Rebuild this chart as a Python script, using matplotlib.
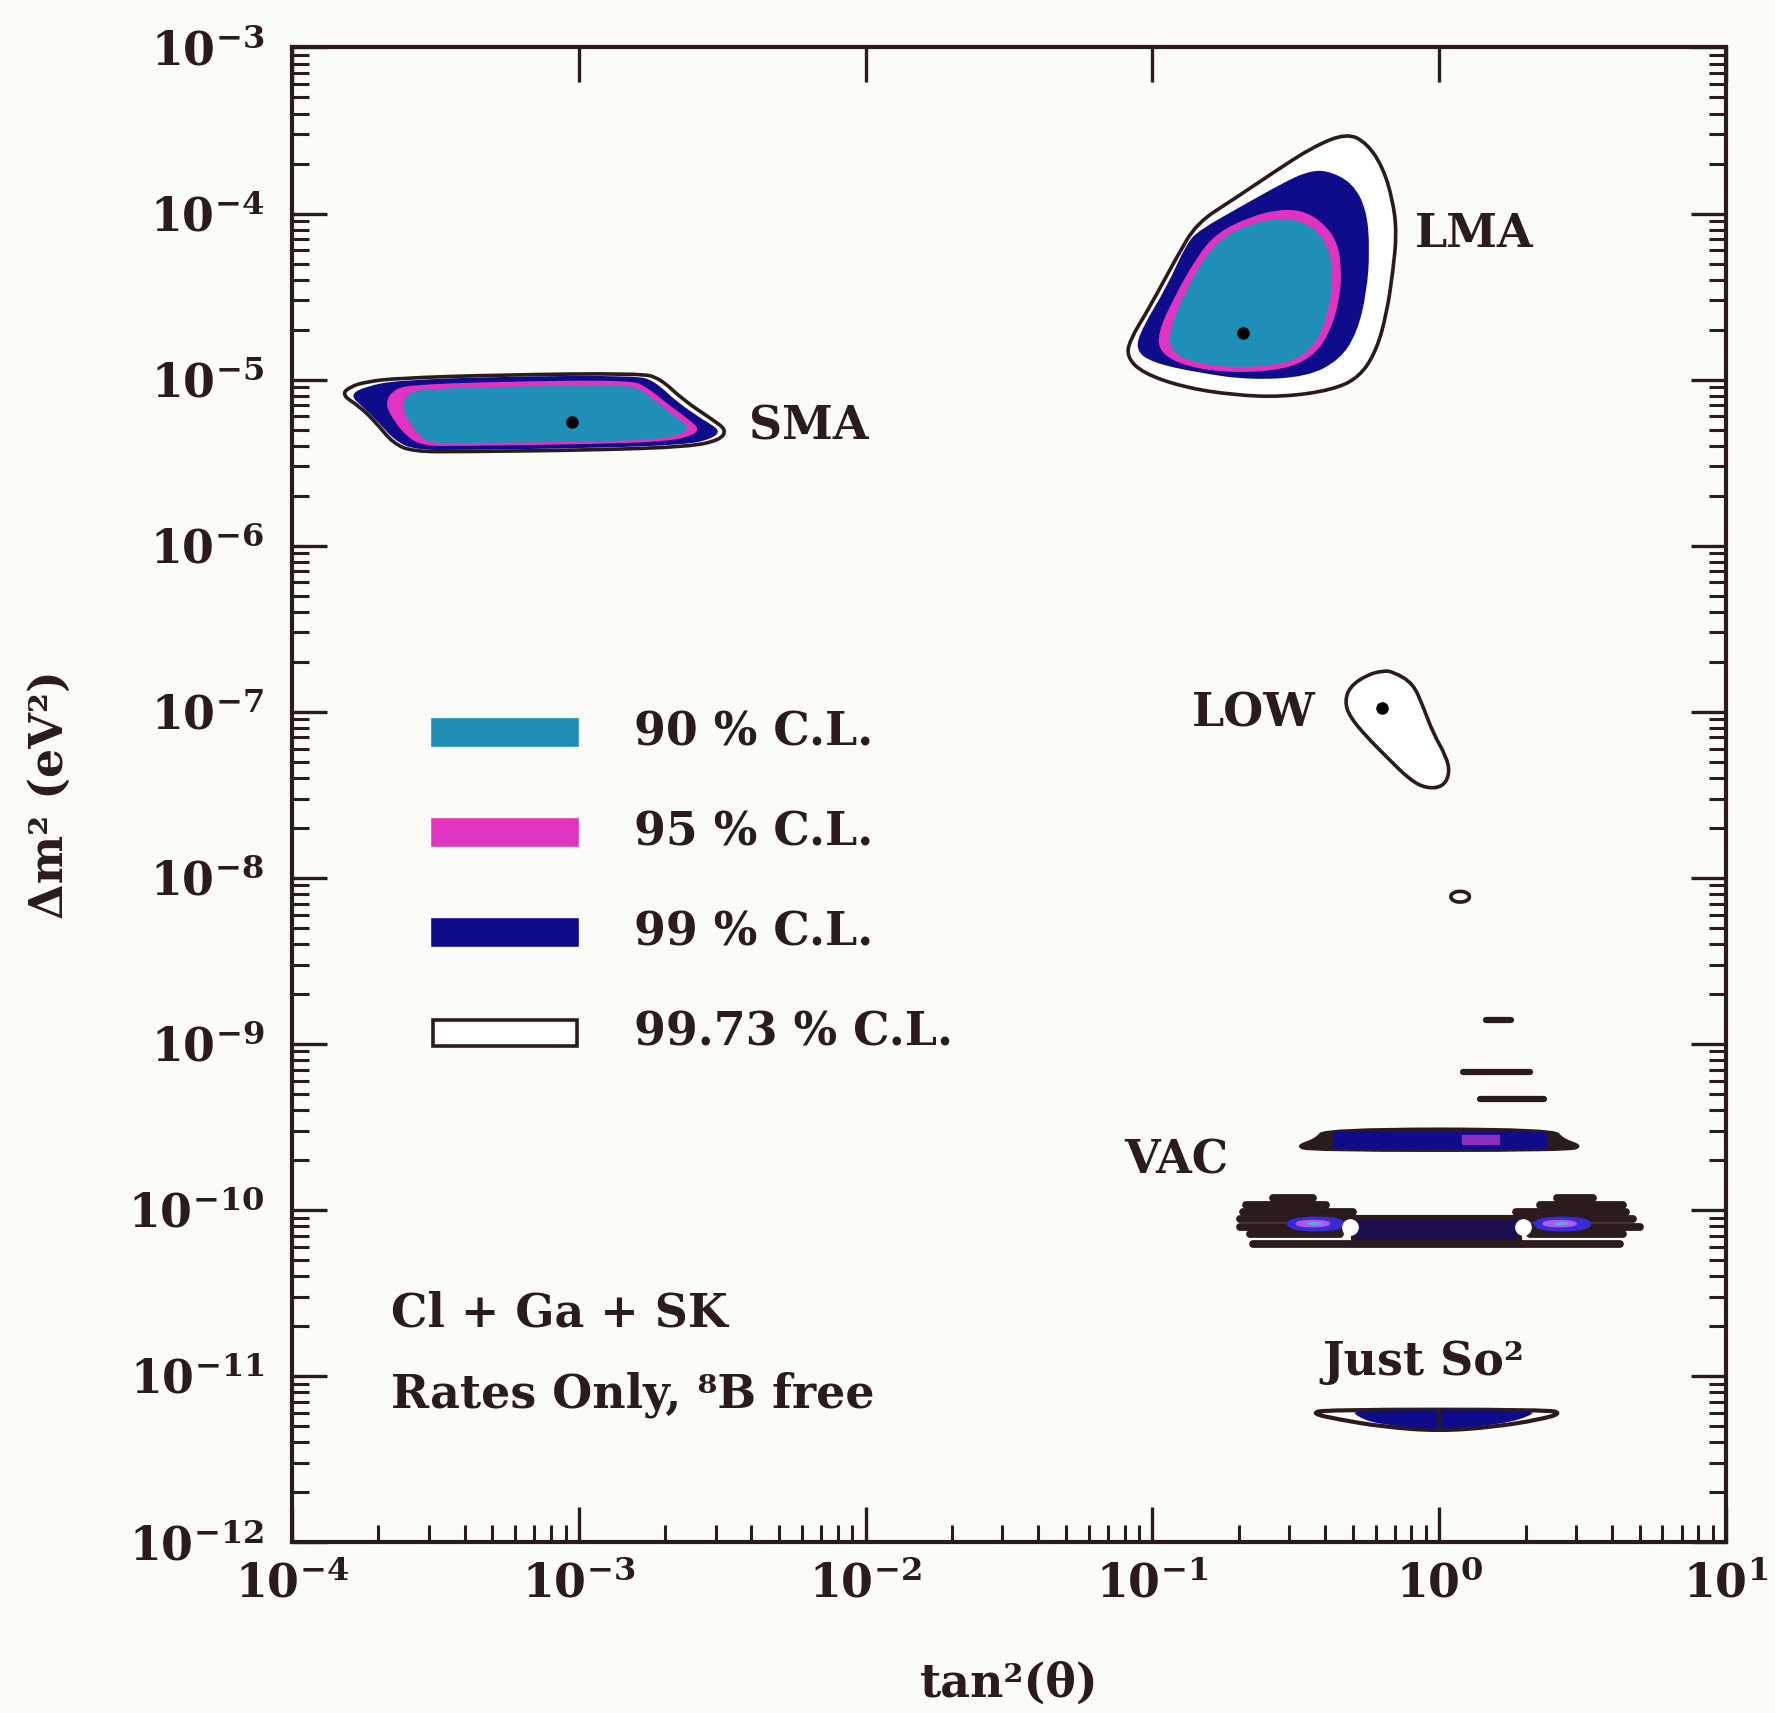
import numpy as np
import matplotlib.pyplot as plt
from matplotlib.path import Path
from matplotlib.patches import PathPatch, Rectangle

plt.rcParams['font.family'] = 'DejaVu Serif'
plt.rcParams['font.weight'] = 'bold'
plt.rcParams['axes.labelweight'] = 'bold'
plt.rcParams['mathtext.fontset'] = 'dejavuserif'

# contour outlines in log10(tan^2 theta), log10(dm^2 / eV^2)
cl_labels = ["90 % C.L.", "95 % C.L.", "99 % C.L.", "99.73 % C.L."]
cl_colors = ["#1f8fb8", "#e033c0", "#0e0c8a", "white"]
ink = "#2b1b1b"
paper = "#fbfbf8"

# SMA
sma_9973_x = [-3.827, -3.798, -3.740, -3.635, -3.287, -2.787, -2.717, -2.636, -2.532, -2.485,
              -2.508, -2.613, -2.938, -3.403, -3.578, -3.647, -3.705, -3.763]
sma_9973_y = [-5.092, -5.043, -5.013, -4.992, -4.972, -4.962, -4.992, -5.123, -5.243, -5.304,
              -5.364, -5.404, -5.424, -5.434, -5.434, -5.384, -5.263, -5.163]
sma_99_x = [-3.800, -3.740, -3.635, -3.287, -2.799, -2.735, -2.659, -2.566, -2.505, -2.535,
            -2.624, -2.938, -3.403, -3.570, -3.640, -3.700, -3.750]
sma_99_y = [-5.092, -5.040, -5.005, -4.982, -4.975, -5.010, -5.133, -5.243, -5.306, -5.356,
            -5.392, -5.412, -5.424, -5.424, -5.370, -5.255, -5.170]
sma_95_x = [-3.676, -3.647, -3.589, -3.287, -2.822, -2.764, -2.694, -2.613, -2.578, -2.613,
            -2.706, -2.938, -3.403, -3.543, -3.600, -3.647]
sma_95_y = [-5.143, -5.062, -5.032, -5.013, -5.002, -5.043, -5.143, -5.243, -5.300, -5.344,
            -5.374, -5.388, -5.400, -5.400, -5.344, -5.243]
sma_90_x = [-3.618, -3.595, -3.543, -3.287, -2.833, -2.781, -2.717, -2.648, -2.613, -2.648,
            -2.729, -2.938, -3.403, -3.519, -3.560, -3.595]
sma_90_y = [-5.163, -5.082, -5.058, -5.043, -5.032, -5.062, -5.153, -5.243, -5.294, -5.334,
            -5.360, -5.374, -5.383, -5.383, -5.334, -5.243]

# LMA
lma_9973_x = [-0.322, -0.253, -0.197, -0.162, -0.148, -0.162, -0.183, -0.218, -0.277, -0.371, -0.545,
              -0.720, -0.894, -1.034, -1.089, -1.079, -1.009, -0.915, -0.845, -0.720, -0.580, -0.441]
lma_9973_y = [-3.515, -3.575, -3.719, -3.918, -4.117, -4.358, -4.599, -4.822, -4.984, -5.062, -5.105,
              -5.093, -5.045, -4.960, -4.864, -4.762, -4.563, -4.261, -4.057, -3.918, -3.755, -3.599]
lma_99_x = [-0.392, -0.302, -0.253, -0.242, -0.253, -0.287, -0.347, -0.462, -0.661, -0.835,
            -0.998, -1.061, -1.034, -0.950, -0.880, -0.835, -0.695, -0.545, -0.462]
lma_99_y = [-3.738, -3.816, -3.978, -4.219, -4.478, -4.720, -4.882, -4.984, -5.002, -4.960,
            -4.900, -4.822, -4.683, -4.442, -4.177, -4.099, -3.961, -3.816, -3.749]
lma_95_x = [-0.486, -0.416, -0.357, -0.340, -0.347, -0.382, -0.441, -0.545, -0.720, -0.880,
            -0.974, -0.981, -0.929, -0.845, -0.776, -0.661, -0.567]
lma_95_y = [-3.978, -4.038, -4.159, -4.322, -4.520, -4.720, -4.864, -4.942, -4.960, -4.924,
            -4.840, -4.720, -4.520, -4.261, -4.117, -4.021, -3.978]
lma_90_x = [-0.497, -0.427, -0.382, -0.371, -0.382, -0.416, -0.476, -0.567, -0.720, -0.870,
            -0.939, -0.939, -0.894, -0.825, -0.755, -0.650, -0.567]
lma_90_y = [-4.038, -4.099, -4.219, -4.382, -4.563, -4.743, -4.864, -4.912, -4.930, -4.894,
            -4.822, -4.701, -4.503, -4.280, -4.141, -4.057, -4.033]

# LOW (99.73 % only) and the small island near 1e-8
low_9973_x = [-0.161, -0.091, -0.056, -0.021, 0.025, 0.037, 0.013, -0.044, -0.102, -0.184,
              -0.253, -0.312, -0.329, -0.312, -0.253, -0.196]
low_9973_y = [-6.759, -6.829, -6.970, -7.130, -7.271, -7.371, -7.452, -7.462, -7.411, -7.271,
              -7.151, -7.030, -6.940, -6.850, -6.779, -6.753]
island_x = [0.108, 0.098, 0.073, 0.048, 0.038, 0.048, 0.073, 0.098]
island_y = [-8.114, -8.089, -8.079, -8.089, -8.114, -8.139, -8.149, -8.139]

# VAC: upper strip near 2.6e-10
vac_up_9973_x = [-0.50, -0.43, -0.40, 0.40, 0.43, 0.50, 0.45, -0.45]
vac_up_9973_y = [-9.615, -9.575, -9.51, -9.51, -9.575, -9.615, -9.645, -9.645]
vac_up_99_x = [-0.37, 0.374, 0.374, -0.37]
vac_up_99_y = [-9.530, -9.530, -9.625, -9.625]
vac_up_95_x = [0.08, 0.21, 0.21, 0.08]
vac_up_95_y = [-9.550, -9.550, -9.605, -9.605]

# VAC: thin 99.73 % islands (x_lo, x_hi, y)
vac_islands = [
    (0.163, 0.252, -8.857),
    (0.083, 0.315, -9.168),
    (0.141, 0.367, -9.335),
]
# VAC: stacked 99.73 % bands of the lower region (x_lo, x_hi, y)
vac_bands = [
    (-0.579, -0.439, -9.931), (-0.672, -0.393, -9.971), (-0.683, -0.300, -10.012),
    (-0.695, -0.288, -10.055), (-0.695, -0.312, -10.100), (-0.660, -0.346, -10.145),
    (0.409, 0.536, -9.931), (0.350, 0.641, -9.971), (0.269, 0.653, -10.012),
    (0.269, 0.676, -10.055), (0.292, 0.699, -10.100), (0.316, 0.641, -10.145),
    (-0.649, 0.629, -10.205),
]
vac_core_x = [-0.30, 0.28, 0.28, -0.30]
vac_core_y = [-10.040, -10.040, -10.195, -10.195]
vac_wing_99_x = [[-0.53, -0.33, -0.33, -0.53], [0.33, 0.53, 0.53, 0.33]]
vac_wing_99_y = [[-10.040, -10.040, -10.130, -10.130], [-10.040, -10.040, -10.130, -10.130]]
vac_wing_95_x = [[-0.50, -0.38, -0.38, -0.50], [0.36, 0.48, 0.48, 0.36]]
vac_wing_95_y = [[-10.060, -10.060, -10.105, -10.105], [-10.060, -10.060, -10.105, -10.105]]
vac_wing_90_x = [[-0.46, -0.41, -0.41, -0.46], [0.40, 0.45, 0.45, 0.40]]
vac_wing_90_y = [[-10.072, -10.072, -10.092, -10.092], [-10.072, -10.072, -10.092, -10.092]]

# Just So^2
js_9973_x = [-0.445, -0.40, 0.38, 0.426, 0.35, 0.20, 0.0, -0.20, -0.35]
js_9973_y = [-11.226, -11.203, -11.203, -11.226, -11.262, -11.305, -11.332, -11.305, -11.262]
js_99_x = [-0.30, 0.33, 0.32, 0.22, 0.0, -0.22, -0.29]
js_99_y = [-11.206, -11.206, -11.240, -11.290, -11.326, -11.290, -11.240]

# best-fit points
best_x = [-3.024, -0.685, -0.201]
best_y = [-5.255, -4.718, -6.980]
vac_best_x = [-0.312, 0.292]
vac_best_y = [-10.102, -10.102]


def smooth_patch(lx, ly, **kw):
    # closed quadratic-bezier outline through edge midpoints (log space)
    pts = np.column_stack([lx, ly])
    mids = (pts + np.roll(pts, -1, axis=0)) / 2
    verts = [mids[-1]]
    codes = [Path.MOVETO]
    for p, m in zip(pts, mids):
        verts += [p, m]
        codes += [Path.CURVE3, Path.CURVE3]
    verts.append(mids[-1])
    codes.append(Path.CLOSEPOLY)
    return PathPatch(Path(10 ** np.array(verts), codes), **kw)


def box(lx, ly, **kw):
    ax.fill(10 ** np.array(lx), 10 ** np.array(ly), **kw)


fig = plt.figure(figsize=(17.75, 17.13), dpi=100, facecolor=paper)
ax = fig.add_subplot(111, facecolor=paper)
fig.subplots_adjust(left=0.1645, right=0.9724, top=0.9723, bottom=0.0998)
ax.set_xscale('log')
ax.set_yscale('log')
ax.set_xlim(1e-4, 1e1)
ax.set_ylim(1e-12, 1e-3)

# SMA and LMA, all four levels
for levels in [(sma_9973_x, sma_9973_y, sma_99_x, sma_99_y, sma_95_x, sma_95_y, sma_90_x, sma_90_y),
               (lma_9973_x, lma_9973_y, lma_99_x, lma_99_y, lma_95_x, lma_95_y, lma_90_x, lma_90_y)]:
    ax.add_patch(smooth_patch(levels[0], levels[1], facecolor='white', edgecolor=ink, lw=2.6))
    ax.add_patch(smooth_patch(levels[2], levels[3], facecolor=cl_colors[2], edgecolor='none'))
    ax.add_patch(smooth_patch(levels[4], levels[5], facecolor=cl_colors[1], edgecolor='none'))
    ax.add_patch(smooth_patch(levels[6], levels[7], facecolor=cl_colors[0], edgecolor='none'))

ax.add_patch(smooth_patch(low_9973_x, low_9973_y, facecolor='white', edgecolor=ink, lw=2.6))
ax.add_patch(smooth_patch(island_x, island_y, facecolor='white', edgecolor=ink, lw=2.6))

# VAC, upper strip
ax.add_patch(smooth_patch(vac_up_9973_x, vac_up_9973_y, facecolor=ink, edgecolor=ink, lw=1.5))
box(vac_up_99_x, vac_up_99_y, color=cl_colors[2])
box(vac_up_95_x, vac_up_95_y, color='#8a2cc0')
for x0, x1, y in vac_islands:
    ax.plot([10 ** x0, 10 ** x1], [10 ** y, 10 ** y], color=ink, lw=4.5, solid_capstyle='round')

# VAC, lower region
for x0, x1, y in vac_bands:
    ax.plot([10 ** x0, 10 ** x1], [10 ** y, 10 ** y], color=ink, lw=5.6, solid_capstyle='round')
box(vac_core_x, vac_core_y, facecolor='#1e1050', edgecolor=ink, lw=3, zorder=2.5)
for wx, wy in zip(vac_wing_99_x, vac_wing_99_y):
    ax.add_patch(smooth_patch(wx, wy, facecolor='#3a2ad8', edgecolor='none', zorder=3))
for wx, wy in zip(vac_wing_95_x, vac_wing_95_y):
    ax.add_patch(smooth_patch(wx, wy, facecolor='#b058f0', edgecolor='none', zorder=3))
for wx, wy in zip(vac_wing_90_x, vac_wing_90_y):
    ax.add_patch(smooth_patch(wx, wy, facecolor='#5aa8d8', edgecolor='none', zorder=3))

# Just So^2
ax.add_patch(smooth_patch(js_9973_x, js_9973_y, facecolor='white', edgecolor=ink, lw=3.0))
ax.add_patch(smooth_patch(js_99_x, js_99_y, facecolor=cl_colors[2], edgecolor='none'))
ax.plot(1.0, 10 ** -11.262, marker='|', ms=13, mew=3, color=ink)

ax.plot(10 ** np.array(best_x), 10 ** np.array(best_y), 'o', color='black', ms=8, zorder=4)
ax.plot(10 ** np.array(vac_best_x), 10 ** np.array(vac_best_y), 'o', color='white', ms=11, zorder=4)

# region names
fs = 33
ax.text(10 ** -2.406, 10 ** -5.284, 'SMA', fontsize=fs, va='center', color=ink)
ax.text(10 ** -0.085, 10 ** -4.125, 'LMA', fontsize=fs, va='center', color=ink)
ax.text(10 ** -0.429, 10 ** -7.009, 'LOW', fontsize=fs, va='center', ha='right', color=ink)
ax.text(10 ** -1.099, 10 ** -9.702, 'VAC', fontsize=fs, va='center', color=ink)
ax.text(10 ** -0.409, 10 ** -10.916, 'Just So²', fontsize=fs, va='center', color=ink)

ax.text(0.0687, 0.153, 'Cl + Ga + SK', transform=ax.transAxes, fontsize=fs, va='center', color=ink)
ax.text(0.0687, 0.0985, 'Rates Only, ⁸B free', transform=ax.transAxes, fontsize=fs,
        va='center', color=ink)

# legend drawn as boxes
for i, (lab, col) in enumerate(zip(cl_labels, cl_colors)):
    yc = 0.5417 - i * 0.067
    ec = ink if col == 'white' else col
    ax.add_patch(Rectangle((0.098, yc - 0.0085), 0.101, 0.017, transform=ax.transAxes,
                           facecolor=col, edgecolor=ec, lw=2.6))
    ax.text(0.2384, yc, lab, transform=ax.transAxes, fontsize=fs, va='center', color=ink)

ax.set_xlabel('tan²(θ)', fontsize=fs, color=ink, labelpad=38)
ax.set_ylabel('Δm² (eV²)', fontsize=fs, color=ink, labelpad=40)

for s in ax.spines.values():
    s.set_linewidth(3.0)
    s.set_color(ink)
ax.tick_params(which='both', direction='in', top=True, right=True, colors=ink, labelsize=33)
ax.tick_params(which='major', length=25, width=2.4)
ax.tick_params(axis='x', which='major', pad=14)
ax.tick_params(axis='y', which='major', pad=20)
ax.tick_params(which='minor', length=12, width=2.2)
ax.tick_params(axis='x', which='minor', top=False)

fig.savefig('out.png', dpi=100, facecolor=paper)
